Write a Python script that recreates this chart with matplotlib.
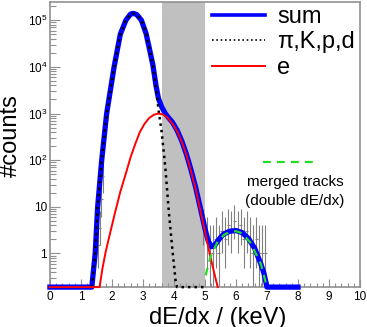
import numpy as np
import matplotlib
matplotlib.use("Agg")
import matplotlib.pyplot as plt
from matplotlib.ticker import FixedLocator, MultipleLocator, LogLocator, NullFormatter
from matplotlib.lines import Line2D

plt.rcParams['font.family'] = ['Liberation Sans', 'DejaVu Sans']
plt.rcParams['mathtext.default'] = 'regular'

y_floor = 0.19  # bottom of the y axis, curves below are drawn on the axis

# sum of all contributions (blue)
sum_x = [0.0, 1.35, 1.46, 1.54, 1.67, 1.83, 2.07, 2.27, 2.45, 2.6, 2.69, 2.8, 2.95, 3.1, 3.2,
         3.32, 3.42, 3.5, 3.6, 3.72, 3.8, 3.95, 4.1, 4.25, 4.4, 4.55, 4.7, 4.85, 5.0, 5.1,
         5.2, 5.3, 5.4, 5.5, 5.6, 5.8, 6.0, 6.2, 6.4, 6.6, 6.8, 6.9, 7.0, 8.0]
sum_y = [0.19, 0.19, 1, 10, 100, 1000, 1.0e4, 5.0e4, 1.0e5, 1.35e5, 1.4e5, 1.32e5, 1.0e5, 5.2e4, 2.6e4,
         1.1e4, 4000, 2100, 1400, 1000, 850, 650, 440, 260, 135, 62, 26, 9.5, 3.4, 1.9,
         1.4, 1.45, 1.8, 2.2, 2.6, 3.0, 3.1, 2.8, 2.1, 1.3, 0.6, 0.38, 0.19, 0.19]

# pi, K, p, d (black dotted)
had_x = [1.35, 1.46, 1.54, 1.67, 1.83, 2.07, 2.27, 2.45, 2.6, 2.69, 2.8, 2.95, 3.1, 3.2,
         3.32, 3.42, 3.51, 3.6, 3.72, 3.83, 3.94, 4.05, 4.1, 5.0]
had_y = [0.19, 1, 10, 100, 1000, 1.0e4, 5.0e4, 1.0e5, 1.35e5, 1.4e5, 1.32e5, 1.0e5, 5.2e4, 2.6e4,
         1.1e4, 3500, 1100, 420, 72, 8.5, 1.4, 0.27, 0.19, 0.19]

# electrons (red)
ele_x = [0.0, 1.6, 1.7, 1.8, 1.95, 2.1, 2.27, 2.45, 2.6, 2.75, 2.9, 3.05, 3.2, 3.35, 3.5,
         3.65, 3.8, 3.95, 4.1, 4.25, 4.4, 4.55, 4.7, 4.85, 5.0, 5.15, 5.3, 5.41]
ele_y = [0.19, 0.19, 0.5, 1.1, 2.9, 7.5, 21, 52, 115, 220, 400, 600, 800, 940, 1000,
         950, 800, 610, 420, 250, 130, 58, 24, 8.5, 3.0, 1.0, 0.38, 0.19]

# merged tracks (green dashed)
mrg_x = [5.02, 5.18, 5.39, 5.61, 5.8, 6.0, 6.2, 6.47, 6.8, 6.99]
mrg_y = [0.34, 0.85, 1.7, 2.5, 2.9, 3.0, 2.7, 1.7, 0.6, 0.2]

# data with error bars (grey)
dat_x = [1.55, 1.6, 1.65, 1.7,
         4.95, 5.05, 5.15, 5.25, 5.35, 5.45, 5.55, 5.65, 5.75, 5.85, 5.95, 6.05,
         6.15, 6.25, 6.35, 6.45, 6.55, 6.65, 6.75, 6.85, 6.95]
dat_y = [1.5, 3.5, 15, 45,
         4, 2, 1, 1, 2, 1, 3, 2, 4, 3, 5, 3,
         4, 2, 3, 2, 1, 2, 1, 1, 1]
dat_lo = [0.5, 1.5, 6, 20,
          1.5, 0.5, 0.19, 0.19, 0.5, 0.19, 1, 0.5, 1.5, 1, 2, 1,
          1.5, 0.5, 1, 0.5, 0.19, 0.5, 0.19, 0.19, 0.19]
dat_hi = [5, 8, 30, 90,
          9, 6, 4, 4, 6, 4, 8, 6, 9, 8, 11, 8,
          9, 6, 8, 6, 4, 6, 4, 4, 4]

band = [3.6, 5.0]
y_ticks = [1, 10, 100, 1e3, 1e4, 1e5]
y_ticklabels = ['1', '10', '$10^{2}$', '$10^{3}$', '$10^{4}$', '$10^{5}$']

fig = plt.figure(figsize=(3.67, 3.27), dpi=100)
ax = fig.add_axes([0.136, 0.122, 0.845, 0.873])
ax.set_yscale('log')
ax.set_xlim(0, 10)
ax.set_ylim(y_floor, 2.5e5)

ax.axvspan(band[0], band[1], color='#c0c0c0', lw=0, zorder=0)

dat_y = np.array(dat_y)
ax.vlines(dat_x, dat_lo, dat_hi, color='#808080', lw=0.8, zorder=1)
ax.hlines(dat_y, np.array(dat_x) - 0.05, np.array(dat_x) + 0.05, color='#808080', lw=0.8, zorder=1)

ax.plot(sum_x, sum_y, color='#0000ff', lw=3.8, zorder=3, clip_on=False, solid_joinstyle='round')
ax.plot(had_x, had_y, color='black', lw=1.8, ls=(0, (1, 1.6)), zorder=4, clip_on=False)
ax.plot(ele_x, ele_y, color='#ff0000', lw=1.4, zorder=5, clip_on=False)
ax.plot(mrg_x, mrg_y, color='#22dd22', lw=1.6, ls=(0, (3.5, 2.8)), zorder=6, clip_on=False)

# axes style
for s in ax.spines.values():
    s.set_color('#909090')
    s.set_linewidth(1.2)
ax.xaxis.set_major_locator(MultipleLocator(1))
ax.xaxis.set_minor_locator(MultipleLocator(0.2))
ax.yaxis.set_major_locator(FixedLocator(y_ticks))
ax.set_yticklabels(y_ticklabels)
ax.yaxis.set_minor_locator(LogLocator(base=10, subs=np.arange(2, 10)))
ax.yaxis.set_minor_formatter(NullFormatter())
ax.tick_params(which='both', direction='in', color='#909090', width=0.8, labelsize=8.5)
ax.tick_params(axis='x', which='major', length=6, pad=3)
ax.tick_params(axis='x', which='minor', length=3)
ax.tick_params(axis='y', which='major', length=7, pad=2)
ax.tick_params(axis='y', which='minor', length=4)

ax.set_xlabel('dE/dx / (keV)', fontsize=17)
ax.xaxis.set_label_coords(0.542, -0.068)
ax.set_ylabel('#counts', fontsize=17)
ax.yaxis.set_label_coords(-0.09, 0.53)

handles = [Line2D([], [], color='#0000ff', lw=2.6),
           Line2D([], [], color='black', lw=1.2, ls=(0, (1, 1.6))),
           Line2D([], [], color='#ff0000', lw=1.4)]
ax.legend(handles, ['sum', 'π,K,p,d', 'e'], loc='upper left', bbox_to_anchor=(0.523, 0.985),
          frameon=False, fontsize=17, handlelength=2.25, handletextpad=0.5,
          labelspacing=0.15, borderpad=0, borderaxespad=0)

ax.add_line(Line2D([0.687, 0.855], [0.439, 0.439], transform=ax.transAxes,
                   color='#22dd22', lw=1.6, ls=(0, (3.5, 2.8))))
ax.text(0.79, 0.369, 'merged tracks', transform=ax.transAxes, ha='center', va='center', fontsize=11)
ax.text(0.79, 0.301, '(double dE/dx)', transform=ax.transAxes, ha='center', va='center', fontsize=11)

fig.savefig('out.png', dpi=100)
